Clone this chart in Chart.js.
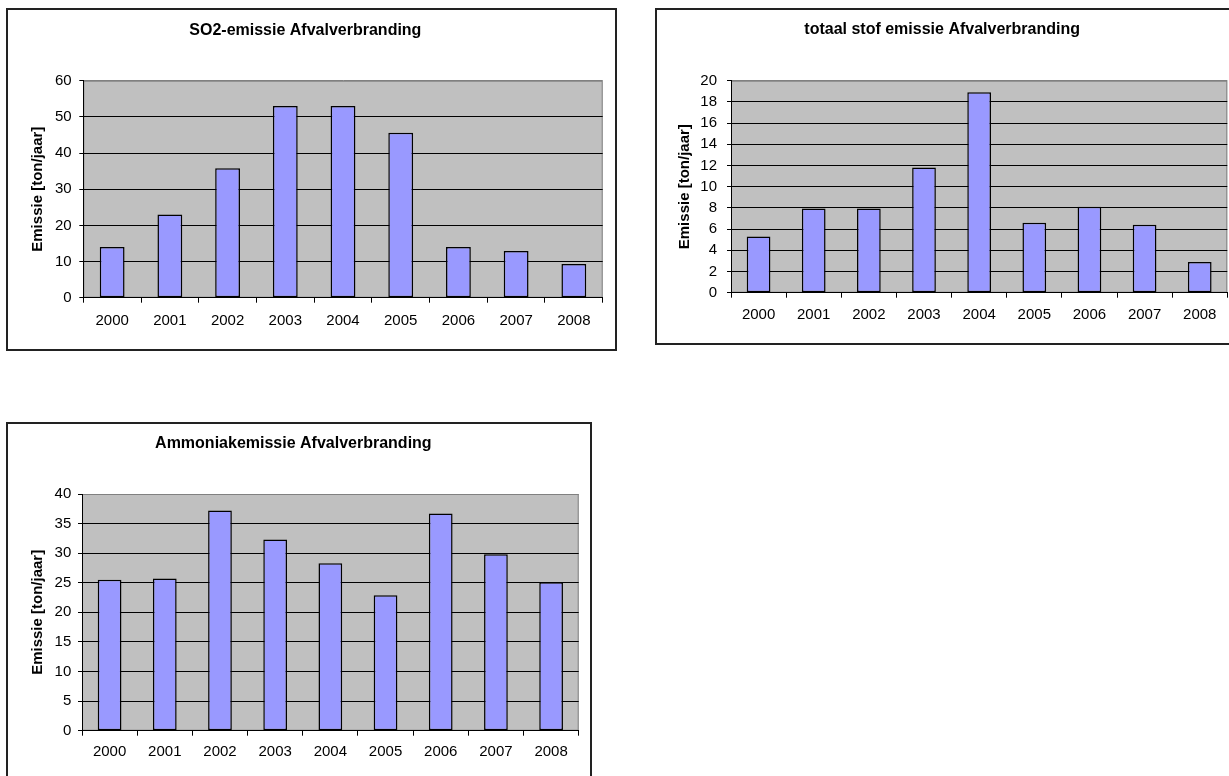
<!DOCTYPE html>
<html>
<head>
<meta charset="utf-8">
<script src="https://cdn.jsdelivr.net/npm/chart.js@4.4.1/dist/chart.umd.min.js"></script>
<style>
  html, body { margin: 0; padding: 0; background: #fff; width: 1229px; height: 776px; overflow: hidden; }
  .frame { position: absolute; border: 2px solid #222; box-sizing: border-box; background: #fff; }
  .frame canvas { position: absolute; left: 0; top: 0; }
</style>
</head>
<body>
<div class="frame" id="f1" style="left:6px;top:8px;width:611px;height:343px;"><canvas id="c1" width="607" height="339"></canvas></div>
<div class="frame" id="f2" style="left:655px;top:8px;width:590px;height:337px;"><canvas id="c2" width="586" height="333"></canvas></div>
<div class="frame" id="f3" style="left:6px;top:422px;width:586px;height:362px;"><canvas id="c3" width="582" height="358"></canvas></div>
<script>
// Years on the category axis (shared by all three charts)
const years = ['2000', '2001', '2002', '2003', '2004', '2005', '2006', '2007', '2008'];

// SO2 emission, ton/jaar
const so2Values = [14, 23, 35.8, 53, 53, 45.6, 14, 12.9, 9.3];
// Total dust emission, ton/jaar
const stofValues = [5.3, 7.95, 7.95, 11.8, 18.9, 6.6, 8.1, 6.4, 2.9];
// Ammonia emission, ton/jaar
const nh3Values = [25.5, 25.7, 37.2, 32.3, 28.3, 22.9, 36.7, 29.8, 25.1];

// Titles and axis ranges
const titles = ['SO2-emissie Afvalverbranding', 'totaal stof emissie Afvalverbranding', 'Ammoniakemissie Afvalverbranding'];
const yAxisTitle = 'Emissie [ton/jaar]';
const yMax = [60, 20, 40];
const yStep = [10, 2, 5];

const FONT = "'Liberation Sans', Arial, sans-serif";

// Grey plot area with a thin grey frame, as in classic spreadsheet charts
const plotBackground = {
  id: 'plotBackground',
  beforeDraw(chart) {
    const { ctx, chartArea: a } = chart;
    ctx.save();
    ctx.fillStyle = '#c0c0c0';
    ctx.fillRect(a.left, a.top, a.right - a.left, a.bottom - a.top);
    ctx.strokeStyle = '#808080';
    ctx.lineWidth = 1;
    ctx.strokeRect(a.left + 0.5, a.top + 0.5, a.right - a.left - 1, a.bottom - a.top - 1);
    ctx.restore();
  }
};

function makeChart(canvasId, title, values, max, step, g) {
  return new Chart(document.getElementById(canvasId), {
    type: 'bar',
    data: {
      labels: years,
      datasets: [{
        data: values,
        backgroundColor: '#9999ff',
        borderColor: '#000',
        borderWidth: 1.5,
        borderSkipped: false,
        categoryPercentage: 1,
        barPercentage: 0.43
      }]
    },
    options: {
      responsive: false,
      animation: false,
      layout: { padding: { left: 0, right: g.padRight, top: 0, bottom: 0 } },
      plugins: {
        legend: { display: false },
        tooltip: { enabled: false },
        title: {
          display: true,
          text: title,
          color: '#000',
          font: { family: FONT, size: 16, weight: 'bold', lineHeight: 1.2 },
          padding: { top: g.titleTop, bottom: g.titleBottom }
        }
      },
      scales: {
        x: {
          grid: { display: true, drawOnChartArea: false, drawTicks: true, tickLength: 5, color: '#000', offset: true },
          border: { display: true, color: '#000', width: 1 },
          ticks: { color: '#000', font: { family: FONT, size: 15, lineHeight: 1.2 }, padding: g.xPad, maxRotation: 0, autoSkip: false },
          afterFit(scale) { scale.height = g.xHeight; }
        },
        y: {
          min: 0,
          max: max,
          ticks: { stepSize: step, color: '#000', font: { family: FONT, size: 15, lineHeight: 1.2 }, padding: g.yPad },
          grid: {
            drawTicks: true,
            tickLength: 4,
            tickColor: '#000',
            color: (c) => (c.tick && c.tick.value === max) ? '#808080' : '#000'
          },
          border: { display: true, color: '#000', width: 1 },
          title: {
            display: true,
            text: yAxisTitle,
            color: '#000',
            font: { family: FONT, size: 15, weight: 'bold', lineHeight: 1.2 },
            padding: { top: g.yTitlePad, bottom: 0 }
          },
          afterFit(scale) { scale.width = g.yWidth; }
        }
      }
    },
    plugins: [plotBackground]
  });
}

makeChart('c1', titles[0], so2Values, yMax[0], yStep[0],
  { padRight: 12.3, titleTop: 11.4, titleBottom: 40.1, xHeight: 51.3, xPad: 9.3, yPad: 7.6, yTitlePad: 20.4, yWidth: 75.3 });
makeChart('c2', titles[1], stofValues, yMax[1], yStep[1],
  { padRight: 15.7, titleTop: 10.4, titleBottom: 41.1, xHeight: 50.3, xPad: 8.3, yPad: 10, yTitlePad: 19.2, yWidth: 74 });
makeChart('c3', titles[2], nh3Values, yMax[2], yStep[2],
  { padRight: 11.3, titleTop: 9.7, titleBottom: 41.1, xHeight: 51.3, xPad: 7.3, yPad: 6.7, yTitlePad: 21, yWidth: 74 });
</script>
</body>
</html>
